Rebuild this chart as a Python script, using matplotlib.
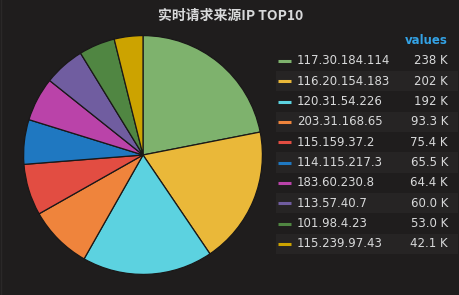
import matplotlib
matplotlib.use('Agg')
import matplotlib.pyplot as plt
from matplotlib.patches import Rectangle

# Data
ips = ['117.30.184.114', '116.20.154.183', '120.31.54.226', '203.31.168.65',
       '115.159.37.2', '114.115.217.3', '183.60.230.8', '113.57.40.7',
       '101.98.4.23', '115.239.97.43']
values = [238.0, 202.0, 192.0, 93.3, 75.4, 65.5, 64.4, 60.0, 53.0, 42.1]   # K
colors = ['#7eb26d', '#eab839', '#5cd2e0', '#ef843c', '#e24d42',
          '#1f78c1', '#ba43a9', '#705da0', '#508642', '#cca300']

title = '实时请求来源IP TOP10'
bg = '#1f1d1d'
text_color = '#d8d9da'

W, H = 459, 295
fig = plt.figure(figsize=(W / 100, H / 100), dpi=100, facecolor=bg)

# Pie chart ########
pie_ax = fig.add_axes([23 / W, (H - 275) / H, 240 / W, 240 / H])
pie_ax.set_facecolor(bg)
pie_ax.pie(values, colors=colors, startangle=90, counterclock=False,
           radius=1, wedgeprops=dict(edgecolor='#1a1818', linewidth=0.9))
pie_ax.set_xlim(-1.005, 1.005)
pie_ax.set_ylim(-1.005, 1.005)
pie_ax.set_aspect('auto')
pie_ax.axis('off')

# Title
fig.text(231 / W, 1 - 16 / H, title, ha='center', va='center', color=text_color,
         fontsize=10, fontweight='bold', family=['Noto Sans CJK SC', 'DejaVu Sans'])

# Legend table ########
leg = fig.add_axes([0, 0, 1, 1])
leg.set_xlim(0, W)
leg.set_ylim(H, 0)
leg.axis('off')

# thin panel border on the left
leg.plot([1, 1], [0, H], color='#2a2828', linewidth=1)

leg.text(448, 41, 'values', ha='right', va='center', color='#33a2e5',
         fontsize=8.5, fontweight='bold')

row_h = 20.33
for i, (ip, val, col) in enumerate(zip(ips, values, colors)):
    y = 61 + i * row_h
    if i % 2 == 1:
        leg.add_patch(Rectangle((276, y - row_h / 2), 182, row_h,
                                facecolor='#262424', edgecolor='none'))
    leg.plot([278, 291], [y, y], color=col, linewidth=2.2, solid_capstyle='butt')
    leg.text(297, y, ip, ha='left', va='center', color=text_color, fontsize=8.5)
    leg.text(448, y, f'{val:.3g} K' if val >= 100 else f'{val:.1f} K',
             ha='right', va='center', color=text_color, fontsize=8.5)

fig.savefig('out.png', dpi=100, facecolor=bg)
